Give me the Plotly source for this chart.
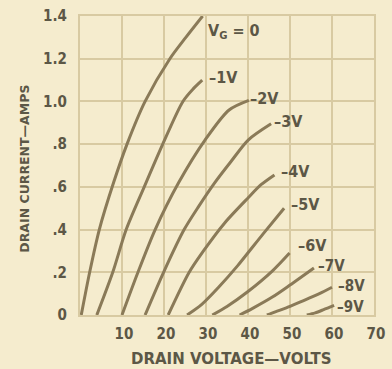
import plotly.graph_objects as go

# Drain characteristics: drain voltage (V) vs drain current (A) per gate bias
vg0_v = [0.3, 2.3, 4.6, 8.0, 11.2, 15.5, 21.4, 25.2, 29.2]
vg0_i = [0.0, 0.2, 0.4, 0.62, 0.8, 1.0, 1.2, 1.3, 1.4]

vg1_v = [4.0, 7.8, 11.0, 15.3, 19.7, 24.5, 27.0, 29.1]
vg1_i = [0.0, 0.2, 0.4, 0.6, 0.8, 1.0, 1.06, 1.1]

vg2_v = [10.0, 13.8, 17.9, 23.5, 29.8, 35.5, 40.2]
vg2_i = [0.0, 0.2, 0.4, 0.62, 0.82, 0.96, 1.005]

vg3_v = [15.5, 19.9, 24.8, 28.3, 32.1, 36.0, 40.1, 45.5]
vg3_i = [0.0, 0.2, 0.4, 0.51, 0.62, 0.72, 0.82, 0.895]

vg4_v = [21.0, 26.0, 29.4, 34.4, 40.1, 43.1, 46.3]
vg4_i = [0.0, 0.2, 0.3, 0.43, 0.55, 0.61, 0.656]

vg5_v = [25.5, 29.0, 33.0, 37.5, 43.6, 48.6]
vg5_i = [0.0, 0.05, 0.13, 0.23, 0.38, 0.5]

vg6_v = [31.5, 35.0, 40.0, 45.9, 49.9]
vg6_i = [0.0, 0.04, 0.11, 0.208, 0.29]

vg7_v = [38.0, 41.0, 45.9, 50.0, 55.7]
vg7_i = [0.0, 0.03, 0.085, 0.14, 0.22]

vg8_v = [44.5, 46.5, 50.0, 53.5, 57.0, 60.0]
vg8_i = [0.0, 0.015, 0.04, 0.07, 0.1, 0.13]

vg9_v = [54.0, 56.0, 58.0, 60.5]
vg9_i = [0.0, 0.01, 0.025, 0.045]

curve_labels = ["V<sub>G</sub> = 0", "–1V", "–2V", "–3V", "–4V",
                "–5V", "–6V", "–7V", "–8V", "–9V"]

x_ticks = [10, 20, 30, 40, 50, 60, 70]
y_ticks = [0, 0.2, 0.4, 0.6, 0.8, 1.0, 1.2, 1.4]
y_tick_text = ["0", ".2", ".4", ".6", ".8", "1.0", "1.2", "1.4"]

curves = [(vg0_v, vg0_i), (vg1_v, vg1_i), (vg2_v, vg2_i), (vg3_v, vg3_i),
          (vg4_v, vg4_i), (vg5_v, vg5_i), (vg6_v, vg6_i), (vg7_v, vg7_i),
          (vg8_v, vg8_i), (vg9_v, vg9_i)]

# pixel offsets of each label from the end of its curve
label_shift = [(4, -15), (6, 3), (0, 2), (2, 2), (6, 3),
               (6, 4), (7, 8), (3, 2), (5, 1), (2, -2)]
label_size = [16, 16, 16, 16, 16, 16, 16, 15, 15, 15]

BG = "#f5ecce"
GRID = "#d8caa2"
CURVE = "#8a7a58"
TEXT = "#5c5746"
NARROW = "Liberation Sans Narrow, DejaVu Sans Condensed, Arial Narrow, sans-serif"
WIDE = "DejaVu Sans, Liberation Sans, sans-serif"

fig = go.Figure()
for (v, i) in curves:
    fig.add_trace(go.Scatter(
        x=v, y=i, mode="lines",
        line=dict(color=CURVE, width=3, shape="spline", smoothing=0.8),
        hoverinfo="skip", showlegend=False))

for (v, i), text, (dx, dy), fs in zip(curves, curve_labels, label_shift, label_size):
    fig.add_annotation(
        x=v[-1], y=i[-1], text=text, showarrow=False,
        xanchor="left", yanchor="middle", xshift=dx, yshift=dy,
        borderpad=0,
        font=dict(family=NARROW, size=fs, color=TEXT, weight="bold"))

fig.add_annotation(
    x=0.515, y=-0.148, xref="paper", yref="paper",
    text="DRAIN VOLTAGE—VOLTS", showarrow=False,
    xanchor="center", yanchor="middle",
    font=dict(family=WIDE, size=15, color=TEXT, weight="bold"))
fig.add_annotation(
    x=-0.19, y=0.49, xref="paper", yref="paper",
    text="DRAIN CURRENT—AMPS", showarrow=False, textangle=-90,
    xanchor="center", yanchor="middle",
    font=dict(family=WIDE, size=12.5, color=TEXT, weight="bold"))

fig.update_layout(
    width=392, height=369,
    margin=dict(l=80, r=7, t=12, b=54),
    paper_bgcolor=BG, plot_bgcolor=BG,
)
fig.update_xaxes(
    range=[0, 70], tickvals=x_ticks, showgrid=True, gridcolor=GRID, gridwidth=2,
    zeroline=False, showline=True, linecolor=GRID, linewidth=2, mirror=True,
    ticks="outside", ticklen=4, tickcolor="rgba(0,0,0,0)", ticklabelshift=2,
    ticklabeloverflow="allow",
    tickfont=dict(family=NARROW, size=15, color=TEXT, weight="bold"),
    fixedrange=True)
fig.update_yaxes(
    range=[0, 1.4], tickvals=y_ticks, ticktext=y_tick_text,
    showgrid=True, gridcolor=GRID, gridwidth=2,
    zeroline=False, showline=True, linecolor=GRID, linewidth=2, mirror=True,
    ticks="outside", ticklen=8, tickcolor="rgba(0,0,0,0)",
    tickfont=dict(family=NARROW, size=15, color=TEXT, weight="bold"),
    fixedrange=True)

fig.write_html("out.html")
